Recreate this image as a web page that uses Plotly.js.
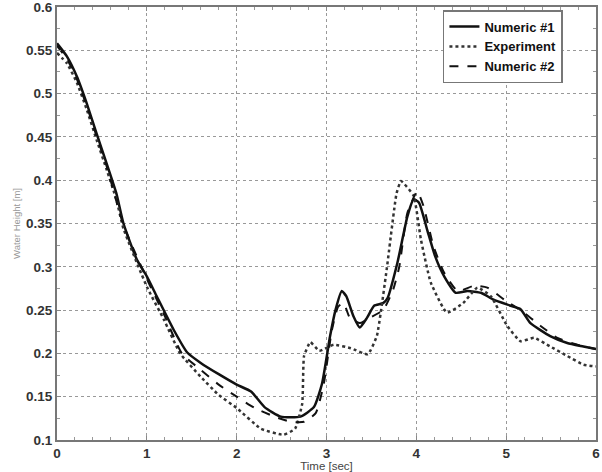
<!DOCTYPE html>
<html>
<head>
<meta charset="utf-8">
<script src="https://cdn.plot.ly/plotly-3.0.1.min.js"></script>
<style>html,body{margin:0;padding:0;background:#fff;}#chart{width:602px;height:472px;}</style>
</head>
<body>
<div id="chart"></div>
<script>
// Numeric #1 (solid)
const t1 = [0, 0.11, 0.22, 0.33, 0.44, 0.55, 0.66, 0.74, 0.89, 1.0, 1.11, 1.3, 1.45, 1.6, 1.8, 2.0, 2.16, 2.31, 2.49, 2.71, 2.86, 2.95, 3.04, 3.1, 3.17, 3.22, 3.3, 3.37, 3.45, 3.53, 3.63, 3.68, 3.79, 3.9, 3.97, 4.03, 4.12, 4.21, 4.31, 4.44, 4.57, 4.72, 4.86, 5.05, 5.16, 5.27, 5.49, 5.68, 5.86, 6.0];
const v1 = [0.558, 0.543, 0.52, 0.489, 0.454, 0.42, 0.385, 0.35, 0.308, 0.289, 0.266, 0.227, 0.201, 0.189, 0.176, 0.164, 0.156, 0.138, 0.127, 0.127, 0.138, 0.165, 0.22, 0.25, 0.272, 0.266, 0.243, 0.23, 0.241, 0.255, 0.258, 0.264, 0.305, 0.358, 0.378, 0.374, 0.343, 0.312, 0.289, 0.27, 0.272, 0.27, 0.262, 0.255, 0.251, 0.235, 0.22, 0.212, 0.208, 0.205];

// Experiment (dotted)
const t2 = [0, 0.11, 0.22, 0.33, 0.44, 0.55, 0.66, 0.74, 1.0, 1.19, 1.37, 1.6, 1.8, 2.0, 2.27, 2.52, 2.65, 2.73, 2.75, 2.82, 2.92, 3.08, 3.27, 3.46, 3.56, 3.67, 3.78, 3.83, 3.97, 4.05, 4.16, 4.34, 4.52, 4.68, 4.83, 5.01, 5.16, 5.31, 5.49, 5.68, 5.86, 6.0];
const v2 = [0.547, 0.535, 0.513, 0.482, 0.447, 0.413, 0.378, 0.344, 0.277, 0.239, 0.2, 0.173, 0.152, 0.137, 0.113, 0.106, 0.113, 0.142, 0.197, 0.213, 0.203, 0.21, 0.206, 0.199, 0.22, 0.297, 0.385, 0.399, 0.382, 0.332, 0.282, 0.247, 0.258, 0.276, 0.266, 0.232, 0.214, 0.218, 0.208, 0.197, 0.187, 0.185];

// Numeric #2 (dashed)
const t3 = [0, 0.11, 0.22, 0.33, 0.44, 0.55, 0.74, 1.0, 1.2, 1.39, 1.6, 1.8, 2.0, 2.2, 2.42, 2.6, 2.75, 2.88, 2.97, 3.06, 3.13, 3.19, 3.26, 3.37, 3.48, 3.63, 3.74, 3.81, 3.9, 4.01, 4.08, 4.19, 4.31, 4.46, 4.64, 4.79, 4.98, 5.2, 5.38, 5.57, 5.79, 6.0];
const v3 = [0.555, 0.54, 0.517, 0.486, 0.451, 0.417, 0.348, 0.286, 0.243, 0.2, 0.181, 0.164, 0.15, 0.137, 0.127, 0.121, 0.121, 0.131, 0.165, 0.227, 0.254, 0.258, 0.241, 0.235, 0.241, 0.25, 0.273, 0.3, 0.362, 0.387, 0.37, 0.324, 0.293, 0.272, 0.278, 0.276, 0.262, 0.247, 0.232, 0.218, 0.21, 0.205];

const names = ['Numeric #1', 'Experiment', 'Numeric #2'];

const font = 'Liberation Sans, Arial, sans-serif';
const traces = [
  {x: t1, y: v1, name: names[0], mode: 'lines', line: {color: '#111', width: 2.5, shape: 'spline', smoothing: 0.5}},
  {x: t2, y: v2, name: names[1], mode: 'lines', line: {color: '#333', width: 2.5, dash: 'dot', shape: 'spline', smoothing: 0.4}},
  {x: t3, y: v3, name: names[2], mode: 'lines', line: {color: '#111', width: 2, dash: 'dash', shape: 'spline', smoothing: 0.5}}
];

const axisCommon = {
  showline: true, linecolor: '#777', linewidth: 2, mirror: 'allticks',
  ticks: 'inside', ticklen: 4, tickcolor: '#888',
  showgrid: true, gridcolor: '#999', griddash: 'dot', gridwidth: 1,
  zeroline: false, ticklabeloverflow: 'allow',
  tickfont: {family: font, size: 13.5, color: '#333', weight: 'bold'}
};

const layout = {
  width: 602, height: 472,
  margin: {l: 57, r: 6, t: 7, b: 32},
  paper_bgcolor: '#fff', plot_bgcolor: '#fff',
  showlegend: true,
  legend: {
    x: 0.716, y: 0.993, xanchor: 'left', yanchor: 'top',
    bgcolor: '#fff', bordercolor: '#777', borderwidth: 1.5,
    font: {family: font, size: 13, color: '#111', weight: 'bold'},
    tracegroupgap: 0
  },
  xaxis: Object.assign({}, axisCommon, {
    range: [0, 6], dtick: 1, tick0: 0,
    minor: {ticks: 'inside', dtick: 0.2, ticklen: 3, tickcolor: '#999', showgrid: false},
    title: {text: 'Time [sec]', font: {family: font, size: 11.5, color: '#444'}, standoff: 4}
  }),
  yaxis: Object.assign({}, axisCommon, {
    range: [0.1, 0.6], dtick: 0.05, tick0: 0.1,
    minor: {ticks: 'inside', dtick: 0.025, ticklen: 3, tickcolor: '#999', showgrid: false},
    title: {text: 'Water Height [m]', font: {family: font, size: 9.5, color: '#999'}, standoff: 4}
  })
};

Plotly.newPlot('chart', traces, layout, {displayModeBar: false, staticPlot: true});
</script>
</body>
</html>
